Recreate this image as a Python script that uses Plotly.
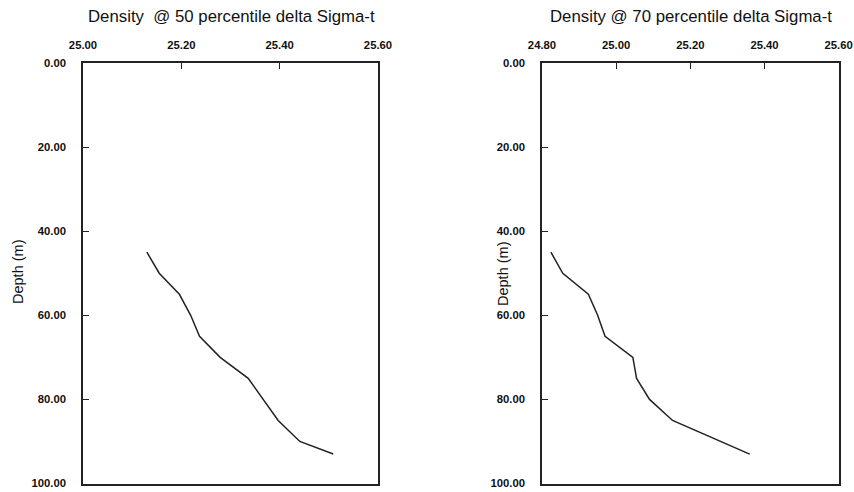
import plotly.graph_objects as go

# Left panel: Density @ 50 percentile delta Sigma-t
depth_50 = [45, 50, 55, 60, 65, 70, 75, 80, 85, 90, 93]
sigma_50 = [25.130, 25.155, 25.196, 25.219, 25.237, 25.279, 25.336, 25.367, 25.397, 25.441, 25.509]

# Right panel: Density @ 70 percentile delta Sigma-t
depth_70 = [45, 50, 55, 60, 65, 70, 75, 80, 85, 90, 93]
sigma_70 = [24.824, 24.856, 24.925, 24.950, 24.970, 25.045, 25.055, 25.090, 25.152, 25.285, 25.360]

title_50 = "Density  @ 50 percentile delta Sigma-t"
title_70 = "Density @ 70 percentile delta Sigma-t"
y_title = "Depth (m)"
y_ticks = [0, 20, 40, 60, 80, 100]
x_ticks_50 = [25.00, 25.20, 25.40, 25.60]
x_ticks_70 = [24.80, 25.00, 25.20, 25.40, 25.60]

W, H = 854, 492
line_col = "#222222"
FONT = "Liberation Sans, Arial, sans-serif"

fig = go.Figure()
fig.add_trace(go.Scatter(x=sigma_50, y=depth_50, mode="lines",
                         line=dict(color=line_col, width=1.5),
                         xaxis="x", yaxis="y", showlegend=False))
fig.add_trace(go.Scatter(x=sigma_70, y=depth_70, mode="lines",
                         line=dict(color=line_col, width=1.5),
                         xaxis="x2", yaxis="y2", showlegend=False))

y_dom = [1 - 483.5 / H, 1 - 63 / H]

def xax(dom, rng, ticks, anchor):
    return dict(domain=dom, range=rng, side="top", tickvals=ticks,
                tickformat=".2f", ticks="inside", ticklen=6, tickwidth=1.3,
                tickcolor=line_col, showline=True, linecolor=line_col,
                linewidth=1.5, mirror=True, showgrid=False, zeroline=False,
                anchor=anchor, automargin=False, ticklabelstandoff=8,
                ticklabeloverflow="allow",
                tickfont=dict(family=FONT, size=11.3, color="#111", weight="bold"))

def yax(anchor):
    return dict(domain=y_dom, range=[100, 0], tickvals=y_ticks,
                tickformat=".2f", ticks="inside", ticklen=6, tickwidth=1.3,
                tickcolor=line_col, showline=True, linecolor=line_col,
                linewidth=1.5, mirror=True, showgrid=False, zeroline=False,
                anchor=anchor, automargin=False, ticklabelstandoff=13,
                ticklabeloverflow="allow",
                tickfont=dict(family=FONT, size=11.3, color="#111", weight="bold"))

fig.update_layout(
    width=W, height=H,
    margin=dict(l=0, r=0, t=0, b=0, autoexpand=False),
    paper_bgcolor="white", plot_bgcolor="white",
    xaxis=xax([83 / W, 378 / W], [25.0, 25.6], x_ticks_50, "y"),
    yaxis=yax("x"),
    xaxis2=xax([542 / W, 838.7 / W], [24.8, 25.6], x_ticks_70, "y2"),
    yaxis2=yax("x2"),
    annotations=[
        dict(text=title_50, x=231 / W, y=1 - 17 / H, xref="paper", yref="paper",
             showarrow=False, xanchor="center", yanchor="middle",
             font=dict(family=FONT, size=16.8, color="#111")),
        dict(text=title_70, x=691 / W, y=1 - 17 / H, xref="paper", yref="paper",
             showarrow=False, xanchor="center", yanchor="middle",
             font=dict(family=FONT, size=16.8, color="#111")),
        dict(text=y_title, x=18 / W, y=1 - 272 / H, xref="paper", yref="paper",
             showarrow=False, textangle=-90, xanchor="center", yanchor="middle",
             font=dict(family=FONT, size=14.5, color="#111")),
        dict(text=y_title, x=503 / W, y=1 - 274 / H, xref="paper", yref="paper",
             showarrow=False, textangle=-90, xanchor="center", yanchor="middle",
             font=dict(family=FONT, size=14.5, color="#111")),
    ],
)

fig.write_html("out.html")
